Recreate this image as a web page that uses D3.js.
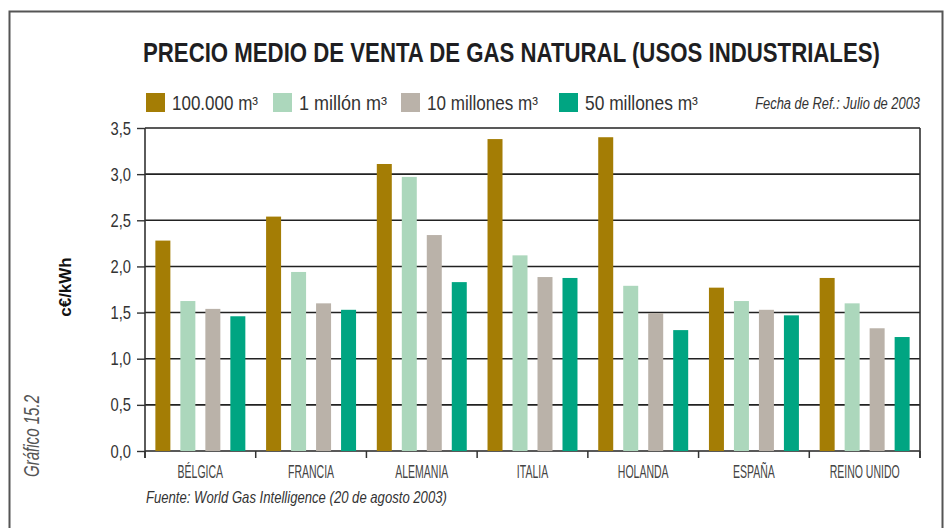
<!DOCTYPE html>
<html>
<head>
<meta charset="utf-8">
<script src="https://cdn.jsdelivr.net/npm/d3@7"></script>
<style>
  html, body { margin: 0; padding: 0; background: #fff; }
  svg { display: block; }
  text { font-family: "Liberation Sans", Arial, sans-serif; }
</style>
</head>
<body>
<svg id="chart" width="950" height="528"></svg>
<script>
// Countries along the x axis
const countries = ["BÉLGICA", "FRANCIA", "ALEMANIA", "ITALIA", "HOLANDA", "ESPAÑA", "REINO UNIDO"];

// Consumption tiers (legend order)
const tiers = ["100.000 m³", "1 millón m³", "10 millones m³", "50 millones m³"];

// Average price, c€/kWh, per tier and country
const v100k = [2.28, 2.54, 3.11, 3.38, 3.40, 1.77, 1.875];
const v1M   = [1.625, 1.94, 2.97, 2.12, 1.79, 1.625, 1.60];
const v10M  = [1.54, 1.60, 2.34, 1.885, 1.495, 1.53, 1.33];
const v50M  = [1.46, 1.53, 1.83, 1.875, 1.31, 1.47, 1.235];

const yTicks = [0, 0.5, 1.0, 1.5, 2.0, 2.5, 3.0, 3.5];

const series = [v100k, v1M, v10M, v50M];
const colors = ["#a47d05", "#acd7bc", "#bab2a9", "#00a582"];

const svg = d3.select("#chart");

// Condensed-type helper: draws text at (x, y) and squeezes it horizontally
// either to a target width or by a fixed factor.
function condensed(parent, x, y, str, opts) {
  const g = parent.append("g").attr("transform", `translate(${x},${y})`);
  const t = g.append("text").text(str)
    .attr("text-anchor", opts.anchor || "start")
    .attr("font-size", opts.size)
    .attr("fill", opts.fill || "#333");
  if (opts.weight) t.attr("font-weight", opts.weight);
  if (opts.italic) t.attr("font-style", "italic");
  const w = t.node().getComputedTextLength();
  const k = opts.width ? opts.width / w : (opts.factor || 1);
  t.attr("transform", `scale(${k},1)`);
  return g;
}

// Frame around the whole figure
svg.append("rect")
  .attr("x", 9.5).attr("y", 11.5)
  .attr("width", 933).attr("height", 540)
  .attr("fill", "none").attr("stroke", "#555").attr("stroke-width", 2);

const x0 = d3.scaleBand().domain(countries).range([145, 920]).padding(0);
const x1 = d3.scaleBand().domain(d3.range(4)).range([0, x0.bandwidth()])
  .paddingInner(0.4).paddingOuter(0.415);
const y = d3.scaleLinear().domain([0, 3.5]).range([451, 128]);

// Horizontal grid lines
svg.append("g").selectAll("line").data(yTicks).join("line")
  .attr("x1", 145).attr("x2", 920)
  .attr("y1", d => y(d)).attr("y2", d => y(d))
  .attr("stroke", "#222").attr("stroke-width", 1.6);

// Bars
const rows = countries.map((c, i) => ({ c, vals: series.map(s => s[i]) }));
svg.append("g").selectAll("g").data(rows).join("g")
  .attr("transform", d => `translate(${x0(d.c)},0)`)
  .selectAll("rect").data(d => d.vals.map((v, k) => ({ v, k }))).join("rect")
  .attr("x", d => x1(d.k))
  .attr("width", x1.bandwidth())
  .attr("y", d => y(d.v))
  .attr("height", d => y(0) - y(d.v))
  .attr("fill", d => colors[d.k]);

// Y axis ticks (labels drawn separately in condensed type)
const yAxis = d3.axisLeft(y).tickValues(yTicks).tickSize(8).tickFormat("");
const gy = svg.append("g").attr("transform", "translate(145,0)").call(yAxis);
gy.select(".domain").remove();
gy.selectAll(".tick line").attr("stroke", "#333").attr("stroke-width", 1.4);
const fmt = d => d3.format(".1f")(d).replace(".", ",");
yTicks.forEach(t => {
  condensed(svg, 131, y(t) + 6.5, fmt(t), { size: 18, anchor: "end", factor: 0.82, fill: "#333" });
});
svg.append("line").attr("x1", 145).attr("x2", 145).attr("y1", 128).attr("y2", 458)
  .attr("stroke", "#333").attr("stroke-width", 1.6);

// X axis: group separators and labels
const bounds = countries.map(c => x0(c)).concat([920]);
svg.append("g").selectAll("line").data(bounds).join("line")
  .attr("x1", d => d).attr("x2", d => d)
  .attr("y1", 451).attr("y2", 458)
  .attr("stroke", "#333").attr("stroke-width", 1.5);
svg.append("line").attr("x1", 920).attr("x2", 920).attr("y1", 128).attr("y2", 458)
  .attr("stroke", "#333").attr("stroke-width", 1.6);

countries.forEach(c => {
  condensed(svg, x0(c) + x0.bandwidth() / 2, 478, c,
    { size: 17.5, anchor: "middle", factor: 0.6, fill: "#444" });
});

// Title
condensed(svg, 143, 62, "PRECIO MEDIO DE VENTA DE GAS NATURAL (USOS INDUSTRIALES)",
  { size: 27, weight: "bold", width: 737, fill: "#1e1e22" });

// Legend
const legendX = [146, 273, 401, 559];
const legendW = [86, 88, 111, 113];
tiers.forEach((d, i) => {
  svg.append("rect").attr("x", legendX[i]).attr("y", 93)
    .attr("width", 19).attr("height", 19).attr("fill", colors[i]);
  condensed(svg, legendX[i] + 26, 110, d, { size: 20, width: legendW[i], fill: "#333" });
});

condensed(svg, 920, 109, "Fecha de Ref.: Julio de 2003",
  { size: 17, italic: true, anchor: "end", width: 165, fill: "#333" });

// Y axis title
svg.append("text")
  .attr("transform", "translate(71,287) rotate(-90)")
  .attr("text-anchor", "middle")
  .attr("font-size", 17).attr("font-weight", "bold").attr("fill", "#111")
  .text("c€/kWh");

// Figure number
svg.append("text")
  .attr("transform", "translate(39,436) rotate(-90)")
  .attr("text-anchor", "middle")
  .attr("font-size", 22).attr("font-style", "italic").attr("fill", "#555")
  .attr("textLength", 82).attr("lengthAdjust", "spacingAndGlyphs")
  .text("Gráfico 15.2");

// Source
condensed(svg, 146, 503, "Fuente: World Gas Intelligence (20 de agosto 2003)",
  { size: 17, italic: true, width: 301, fill: "#333" });
</script>
</body>
</html>
